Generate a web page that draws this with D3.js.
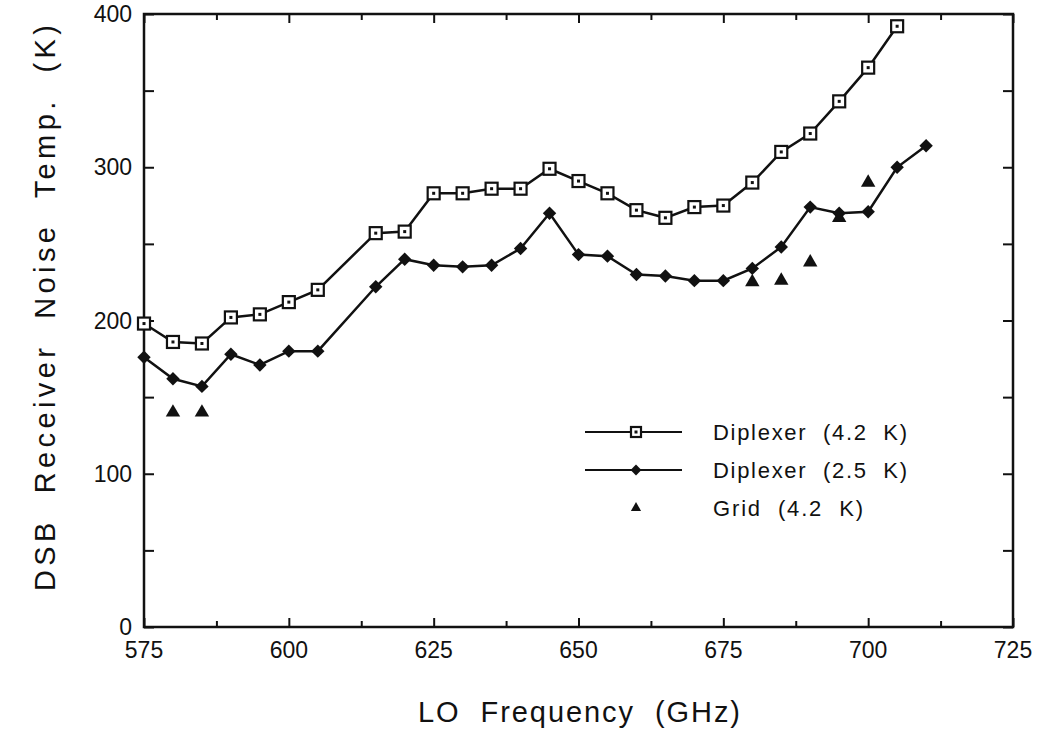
<!DOCTYPE html>
<html><head><meta charset="utf-8">
<script src="https://cdn.jsdelivr.net/npm/d3@7/dist/d3.min.js"></script>
<style>body{margin:0;background:#fff}svg{display:block}text{font-family:"Liberation Sans",Arial,sans-serif;fill:#111;white-space:pre}</style>
</head><body><svg id="c" width="1038" height="730"></svg>
<script>
const freq42 = [575,580,585,590,595,600,605,615,620,625,630,635,640,645,650,655,660,665,670,675,680,685,690,695,700,705];
const temp42 = [198,186,185,202,204,212,220,257,258,283,283,286,286,299,291,283,272,267,274,275,290,310,322,343,365,392];
const freq25 = [575,580,585,590,595,600,605,615,620,625,630,635,640,645,650,655,660,665,670,675,680,685,690,695,700,705,710];
const temp25 = [176,162,157,178,171,180,180,222,240,236,235,236,247,270,243,242,230,229,226,226,234,248,274,270,271,300,314];
const freqGrid = [580,585,680,685,690,695,700];
const tempGrid = [140,140,225,226,238,267,290];
const xTicks = [575,600,625,650,675,700,725];
const yTicks = [0,100,200,300,400];
const legendLabels = ["Diplexer  (4.2  K)","Diplexer  (2.5  K)","Grid  (4.2  K)"];

const svg = d3.select("#c");
const L=144, R=1013, T=14, B=627;
const x = d3.scaleLinear().domain([575,725]).range([L,R]);
const y = d3.scaleLinear().domain([0,400]).range([B,T]);
const ink="#111";

svg.append("rect").attr("x",L).attr("y",T).attr("width",R-L).attr("height",B-T)
  .attr("fill","none").attr("stroke",ink).attr("stroke-width",2.5);

const minorX = d3.range(587.5,725,25);
const minorY = d3.range(50,400,100);
[
  [d3.axisBottom(x).tickValues(xTicks).tickSize(-9), `translate(0,${B})`],
  [d3.axisBottom(x).tickValues(minorX).tickSize(-6), `translate(0,${B})`],
  [d3.axisTop(x).tickValues(xTicks).tickSize(-9), `translate(0,${T})`],
  [d3.axisTop(x).tickValues(minorX).tickSize(-6), `translate(0,${T})`],
  [d3.axisLeft(y).tickValues(yTicks).tickSize(-10), `translate(${L},0)`],
  [d3.axisLeft(y).tickValues(minorY).tickSize(-10), `translate(${L},0)`],
  [d3.axisRight(y).tickValues(yTicks).tickSize(-10), `translate(${R},0)`],
  [d3.axisRight(y).tickValues(minorY).tickSize(-10), `translate(${R},0)`]
].forEach(([a,t])=>{
  const g=svg.append("g").attr("transform",t).call(a.tickFormat(""));
  g.select(".domain").remove();
  g.selectAll("line").attr("stroke",ink).attr("stroke-width",2);
});

svg.append("g").selectAll("text").data(xTicks).join("text")
  .attr("x",d=>x(d)).attr("y",B+31).attr("text-anchor","middle")
  .attr("font-size",23).text(d=>d);
svg.append("g").selectAll("text").data(yTicks).join("text")
  .attr("x",L-12).attr("y",d=>y(d)+8).attr("text-anchor","end")
  .attr("font-size",23).text(d=>d);

svg.append("text").attr("x",579).attr("y",722).attr("text-anchor","middle")
  .attr("font-size",29).attr("textLength",322).attr("lengthAdjust","spacing").text("LO  Frequency  (GHz)");
svg.append("text").attr("transform","translate(55,308) rotate(-90)").attr("text-anchor","middle")
  .attr("font-size",29).attr("textLength",566).attr("lengthAdjust","spacing")
  .text("DSB  Receiver  Noise  Temp.  (K)");

const line = d3.line().x(d=>x(d[0])).y(d=>y(d[1]));
const d42 = freq42.map((f,i)=>[f,temp42[i]]);
const d25 = freq25.map((f,i)=>[f,temp25[i]]);
const dG = freqGrid.map((f,i)=>[f,tempGrid[i]]);

svg.append("path").datum(d25).attr("d",line).attr("fill","none").attr("stroke",ink).attr("stroke-width",2.5);
svg.append("path").datum(d42).attr("d",line).attr("fill","none").attr("stroke",ink).attr("stroke-width",2.5);

const diamond = d3.symbol().type(d3.symbolDiamond2).size(115);
const tri = d3.symbol().type(d3.symbolTriangle).size(90);

function square(g,cx,cy,s){
  g.append("rect").attr("x",cx-s/2).attr("y",cy-s/2).attr("width",s).attr("height",s)
    .attr("fill","#fff").attr("stroke",ink).attr("stroke-width",2.2);
  g.append("rect").attr("x",cx-1.5).attr("y",cy-1.5).attr("width",3).attr("height",3).attr("fill",ink);
}
const gs = svg.append("g");
d42.forEach(d=>square(gs,x(d[0]),y(d[1]),12));
svg.append("g").selectAll("path").data(d25).join("path")
  .attr("d",diamond).attr("transform",d=>`translate(${x(d[0])},${y(d[1])})`).attr("fill",ink);
svg.append("g").selectAll("path").data(dG).join("path")
  .attr("d",tri).attr("transform",d=>`translate(${x(d[0])},${y(d[1])})`).attr("fill",ink);

const lg = svg.append("g");
const ly=[432,470,508];
[0,1].forEach(i=>{
  lg.append("line").attr("x1",585).attr("x2",682).attr("y1",ly[i]).attr("y2",ly[i]).attr("stroke",ink).attr("stroke-width",2.2);
});
square(lg,636,ly[0],10);
lg.append("path").attr("d",d3.symbol().type(d3.symbolDiamond2).size(75)).attr("transform",`translate(636,${ly[1]})`).attr("fill",ink);
lg.append("path").attr("d",d3.symbol().type(d3.symbolTriangle).size(45)).attr("transform",`translate(636,${ly[2]})`).attr("fill",ink);
legendLabels.forEach((t,i)=>{
  const w=[194,194,150][i];
  lg.append("text").attr("x",713).attr("y",ly[i]+8).attr("font-size",22)
    .attr("textLength",w).attr("lengthAdjust","spacing").text(t);
});
</script></body></html>
